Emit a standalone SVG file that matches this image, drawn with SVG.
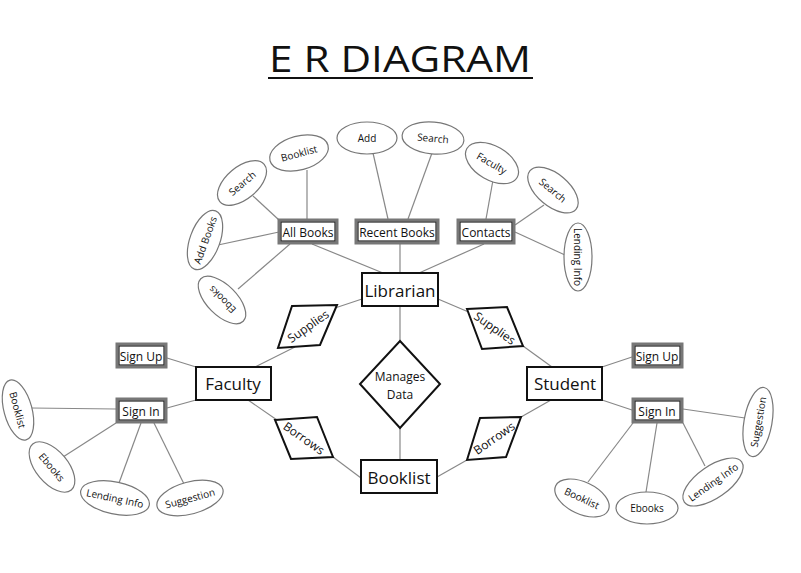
<svg xmlns="http://www.w3.org/2000/svg" width="801" height="573" viewBox="0 0 801 573">
<style>
text{font-family:"Open Sans","Liberation Sans",sans-serif;fill:#111;text-anchor:middle;dominant-baseline:central}
.e{fill:#fff;stroke:#111;stroke-width:2}
.w{fill:#fff;stroke:#777;stroke-width:3}
.wi{fill:none;stroke:#222;stroke-width:1.2}
.el{fill:#fff;stroke:#777;stroke-width:1.2}
.r{fill:#fff;stroke:#111;stroke-width:2}
.c line{stroke:#888;stroke-width:1.2}
.big{font-size:17px}
.mid{font-size:12px}
.sm{font-size:10px}
</style>
<rect width="801" height="573" fill="#fff"/>
<text x="400" y="58" textLength="262" lengthAdjust="spacingAndGlyphs" style="font-size:36px">E R DIAGRAM</text>
<line x1="268" y1="78" x2="533" y2="78" stroke="#111" stroke-width="2"/>
<g class="c">
<line x1="362" y1="299" x2="323" y2="312"/><line x1="295" y1="347" x2="255" y2="367"/>
<line x1="438" y1="299" x2="478" y2="316"/><line x1="523" y1="346" x2="552" y2="367"/>
<line x1="248" y1="400" x2="277" y2="420"/><line x1="333" y1="457" x2="361" y2="478"/>
<line x1="437" y1="477" x2="467" y2="460"/><line x1="521" y1="417" x2="551" y2="400"/>
<line x1="400" y1="306" x2="400" y2="341"/><line x1="400" y1="428" x2="400" y2="460"/>
<line x1="312" y1="244" x2="383" y2="273"/><line x1="400" y1="244" x2="400" y2="273"/><line x1="484" y1="244" x2="419" y2="273"/>
<line x1="307" y1="219" x2="307" y2="170"/><line x1="279" y1="220" x2="253" y2="196"/><line x1="279" y1="232" x2="218" y2="245"/><line x1="290" y1="244" x2="238" y2="289"/>
<line x1="388" y1="219" x2="373" y2="153"/><line x1="408" y1="219" x2="432" y2="153"/>
<line x1="486" y1="219" x2="493" y2="180"/><line x1="515" y1="225" x2="544" y2="205"/><line x1="515" y1="232" x2="565" y2="255"/>
<line x1="167" y1="358" x2="196" y2="367"/><line x1="167" y1="408" x2="196" y2="400"/>
<line x1="116" y1="409" x2="31" y2="408"/><line x1="116" y1="423" x2="63" y2="457"/><line x1="141" y1="423" x2="119" y2="483"/><line x1="154" y1="423" x2="184" y2="484"/>
<line x1="602" y1="367" x2="632" y2="357"/><line x1="602" y1="400" x2="632" y2="410"/>
<line x1="683" y1="409" x2="745" y2="418"/><line x1="633" y1="423" x2="588" y2="482"/><line x1="657" y1="423" x2="646" y2="492"/><line x1="683" y1="423" x2="705" y2="466"/>
</g>
<g id="librarian"><rect class="e" x="362" y="273" width="76" height="33"/><text class="big" x="400" y="290">Librarian</text></g>
<g id="faculty"><rect class="e" x="196" y="367" width="75" height="33"/><text class="big" x="233" y="383">Faculty</text></g>
<g id="student"><rect class="e" x="527" y="367" width="75" height="33"/><text class="big" x="565" y="383">Student</text></g>
<g id="booklist"><rect class="e" x="361" y="460" width="76" height="33"/><text class="big" x="399" y="477">Booklist</text></g>
<g id="manages"><polygon class="r" points="400,341 440,384 400,428 360,384"/><text class="mid" x="400" y="376">Manages</text><text class="mid" x="400" y="394">Data</text></g>
<g id="supplies-l"><polygon class="r" points="292,306 337,305 320,345 278,348"/><text class="mid" transform="translate(308,326) rotate(-35)">Supplies</text></g>
<g id="supplies-r"><polygon class="r" points="467,309 507,307 523,346 482,349"/><text class="mid" transform="translate(495,328) rotate(35)">Supplies</text></g>
<g id="borrows-l"><polygon class="r" points="275,420 317,417 333,457 291,459"/><text class="mid" transform="translate(304,438) rotate(35)">Borrows</text></g>
<g id="borrows-r"><polygon class="r" points="467,460 480,418 521,417 506,457"/><text class="mid" transform="translate(494,438) rotate(-35)">Borrows</text></g>
<g id="allbooks"><rect class="w" x="279" y="220" width="58" height="23"/><rect class="wi" x="281" y="222" width="54" height="19"/><text class="mid" x="308" y="232">All Books</text></g>
<g id="recentbooks"><rect class="w" x="356" y="220" width="82" height="23"/><rect class="wi" x="358" y="222" width="78" height="19"/><text class="mid" x="397" y="232">Recent Books</text></g>
<g id="contacts"><rect class="w" x="458" y="220" width="56" height="23"/><rect class="wi" x="460" y="222" width="52" height="19"/><text class="mid" x="486" y="232">Contacts</text></g>
<g id="signup-l"><rect class="w" x="117" y="344" width="49" height="23"/><rect class="wi" x="119" y="346" width="45" height="19"/><text class="mid" x="141" y="356">Sign Up</text></g>
<g id="signin-l"><rect class="w" x="117" y="399" width="49" height="23"/><rect class="wi" x="119" y="401" width="45" height="19"/><text class="mid" x="141" y="411">Sign In</text></g>
<g id="signup-r"><rect class="w" x="633" y="344" width="49" height="23"/><rect class="wi" x="635" y="346" width="45" height="19"/><text class="mid" x="657" y="356">Sign Up</text></g>
<g id="signin-r"><rect class="w" x="633" y="399" width="49" height="23"/><rect class="wi" x="635" y="401" width="45" height="19"/><text class="mid" x="657" y="411">Sign In</text></g>
<g id="a-booklist-t" transform="translate(299,153) rotate(-15)"><ellipse class="el" rx="30" ry="17"/><text class="sm">Booklist</text></g>
<g id="a-add" transform="translate(367,138)"><ellipse class="el" rx="30" ry="16"/><text class="sm">Add</text></g>
<g id="a-search-t" transform="translate(433,138) rotate(5)"><ellipse class="el" rx="31" ry="16"/><text class="sm">Search</text></g>
<g id="a-search-l" transform="translate(242,183) rotate(-40)"><ellipse class="el" rx="29" ry="16"/><text class="sm">Search</text></g>
<g id="a-addbooks" transform="translate(205,240) rotate(-70)"><ellipse class="el" rx="31" ry="15"/><text class="sm">Add Books</text></g>
<g id="a-ebooks-t" transform="translate(222,300) rotate(225)"><ellipse class="el" rx="30" ry="15"/><text class="sm">Ebooks</text></g>
<g id="a-faculty" transform="translate(492,163) rotate(30)"><ellipse class="el" rx="29" ry="17"/><text class="sm">Faculty</text></g>
<g id="a-search-r" transform="translate(553,190) rotate(40)"><ellipse class="el" rx="30" ry="16"/><text class="sm">Search</text></g>
<g id="a-lending-t" transform="translate(578,257) rotate(90)"><ellipse class="el" rx="34" ry="14"/><text class="sm">Lending Info</text></g>
<g id="a-booklist-l" transform="translate(18,410) rotate(75)"><ellipse class="el" rx="31" ry="14"/><text class="sm">Booklist</text></g>
<g id="a-ebooks-l" transform="translate(52,467) rotate(50)"><ellipse class="el" rx="30" ry="16"/><text class="sm">Ebooks</text></g>
<g id="a-lending-l" transform="translate(115,498) rotate(12)"><ellipse class="el" rx="35" ry="16"/><text class="sm">Lending Info</text></g>
<g id="a-suggestion-l" transform="translate(190,498) rotate(-15)"><ellipse class="el" rx="34" ry="16"/><text class="sm">Suggestion</text></g>
<g id="a-suggestion-r" transform="translate(758,422) rotate(-80)"><ellipse class="el" rx="35" ry="14"/><text class="sm">Suggestion</text></g>
<g id="a-lending-r" transform="translate(713,482) rotate(-35)"><ellipse class="el" rx="35" ry="16"/><text class="sm">Lending Info</text></g>
<g id="a-ebooks-r" transform="translate(647,508)"><ellipse class="el" rx="31" ry="16"/><text class="sm">Ebooks</text></g>
<g id="a-booklist-r" transform="translate(582,498) rotate(25)"><ellipse class="el" rx="29" ry="16"/><text class="sm">Booklist</text></g>
</svg>
